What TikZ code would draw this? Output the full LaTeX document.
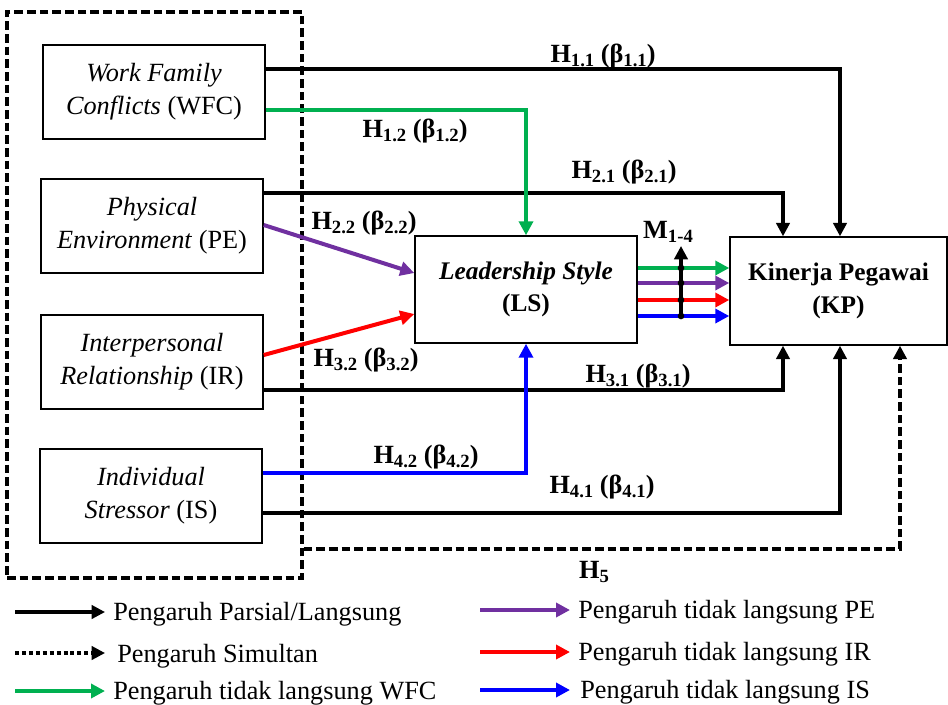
\documentclass[tikz,border=0pt]{standalone}
\usepackage{fontspec}
\setmainfont{Liberation Serif}[BoldFont={Liberation Serif Bold},ItalicFont={Liberation Serif Italic},BoldItalicFont={Liberation Serif Bold Italic}]
\usetikzlibrary{arrows.meta}
\definecolor{cgreen}{RGB}{0,176,80}
\definecolor{cpurple}{RGB}{112,48,160}
\definecolor{cred}{RGB}{255,0,0}
\definecolor{cblue}{RGB}{0,0,255}
\newcommand\sbs[1]{\raisebox{-3pt}{\fontsize{14}{14}\selectfont #1}}
\newcommand\hyp[1]{\textbf{H\sbs{#1} (β\sbs{#1})}}
\begin{document}
\begin{tikzpicture}[x=0.75pt,y=-0.75pt,
  font=\rmfamily\fontsize{19.7}{24.5}\selectfont,
  box/.style={draw,line width=1.1pt,minimum width=166.5pt,minimum height=70.5pt,align=center,inner sep=0pt},
  bbox/.style={box,font=\rmfamily\bfseries\fontsize{19}{24.5}\selectfont},
  conn/.style={line width=2.3pt,-{Triangle[length=10pt,width=10pt]}},
  cconn/.style={line width=3pt,-{Triangle[length=10.5pt,width=10.5pt]}},
  lbl/.style={inner sep=0pt},
  dotb/.style={circle,fill=black,inner sep=0pt,minimum size=5pt}]
\useasboundingbox (0,0) rectangle (948,704);
% group frame
\node[draw,line width=2.4pt,dash pattern=on 6.5pt off 3pt,minimum width=221.25pt,minimum height=424.5pt,inner sep=0pt] (grp) at (154.5,295) {};
% boxes
\node[box] (wfc) at (154,92) {\textit{Work Family}\\\textit{Conflicts} (WFC)};
\node[box] (pe) at (152,226) {\textit{Physical}\\\textit{Environment} (PE)};
\node[box] (ir) at (152,362) {\textit{Interpersonal}\\\textit{Relationship} (IR)};
\node[box] (is) at (151,496) {\textit{Individual}\\\textit{Stressor} (IS)};
\node[bbox,minimum height=80.25pt] (ls) at (526,289.5) {\textit{Leadership Style}\\(LS)};
\node[bbox,minimum width=162.75pt,minimum height=81pt] (kp) at (838.5,291) {Kinerja Pegawai\\(KP)};
% direct paths
\draw[conn] (wfc.east |- 0,69) -| (840,0 |- kp.north);
\draw[conn] (pe.east |- 0,193) -| (783,0 |- kp.north);
\draw[conn] (ir.east |- 0,390) -| (783,0 |- kp.south);
\draw[conn] (is.east |- 0,513) -| (840,0 |- kp.south);
\draw[conn,dash pattern=on 6.5pt off 3pt] (grp.east |- 0,549) -| (900,0 |- kp.south);
% indirect paths
\draw[cconn,cgreen] (wfc.east |- 0,110) -| (ls.north);
\draw[cconn,cpurple] (pe.east |- 0,225) -- (ls.west |- 0,273);
\draw[cconn,cred] (ir.east |- 0,355) -- (ls.west |- 0,314);
\draw[cconn,cblue] (is.east |- 0,473) -| (ls.south);
% LS -> KP
\draw[cconn,cgreen] (ls.east |- 0,268) -- (kp.west |- 0,268);
\draw[cconn,cpurple] (ls.east |- 0,283) -- (kp.west |- 0,283);
\draw[cconn,cred] (ls.east |- 0,300) -- (kp.west |- 0,300);
\draw[cconn,cblue] (ls.east |- 0,316) -- (kp.west |- 0,316);
% moderation
\coordinate (mbot) at (681,316);
\coordinate (mtop) at (681,246);
\draw[conn] (mbot) -- (mtop);
\node[dotb] (d1) at (681,268) {};
\node[dotb] (d2) at (681,283) {};
\node[dotb] (d3) at (681,300) {};
\node[dotb] (d4) at (681,316) {};
\node[lbl] (mlab) at (668,232) {\textbf{M\sbs{1-4}}};
% labels
\node[lbl] (h11) at (603,56) {\hyp{1.1}};
\node[lbl] (h12) at (415,131) {\hyp{1.2}};
\node[lbl] (h21) at (624,172) {\hyp{2.1}};
\node[lbl] (h22) at (364,223) {\hyp{2.2}};
\node[lbl] (h32) at (366,360) {\hyp{3.2}};
\node[lbl] (h31) at (638,376) {\hyp{3.1}};
\node[lbl] (h42) at (426,457) {\hyp{4.2}};
\node[lbl] (h41) at (602,487) {\hyp{4.1}};
\node[lbl] (h5) at (594,572) {\textbf{H\sbs{5}}};
% legend
\node[lbl,anchor=west] (lg1) at (113,614) {Pengaruh Parsial/Langsung};
\node[lbl,anchor=west] (lg2) at (117,656) {Pengaruh Simultan};
\node[lbl,anchor=west] (lg3) at (113,693) {Pengaruh tidak langsung WFC};
\node[lbl,anchor=west] (lg4) at (578,612) {Pengaruh tidak langsung PE};
\node[lbl,anchor=west] (lg5) at (578,654) {Pengaruh tidak langsung IR};
\node[lbl,anchor=west] (lg6) at (580,692) {Pengaruh tidak langsung IS};
\coordinate (s1) at (15,612);
\coordinate (s2) at (15,653);
\coordinate (s3) at (15,691);
\coordinate (s4) at (480,610);
\coordinate (s5) at (480,652);
\coordinate (s6) at (480,690);
\draw[conn] (s1) -- ([xshift=-6pt]lg1.west |- s1);
\draw[conn,dash pattern=on 3pt off 2.2pt] (s2) -- ([xshift=-9pt]lg2.west |- s2);
\draw[cconn,cgreen] (s3) -- ([xshift=-6pt]lg3.west |- s3);
\draw[cconn,cpurple] (s4) -- ([xshift=-6pt]lg4.west |- s4);
\draw[cconn,cred] (s5) -- ([xshift=-6pt]lg5.west |- s5);
\draw[cconn,cblue] (s6) -- ([xshift=-7.5pt]lg6.west |- s6);
\end{tikzpicture}
\end{document}
